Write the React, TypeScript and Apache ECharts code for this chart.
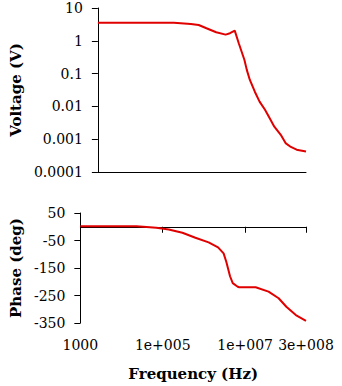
import React, { useEffect, useRef } from "react";
import * as echarts from "echarts";

// Voltage vs frequency (Hz, V)
const voltFreq = [1000, 1e5, 2.8e5, 4.5e5, 7.2e5, 1.3e6, 2.3e6, 3.0e6, 4.0e6, 5.1e6, 7.2e6, 8.3e6, 1.0e7, 1.35e7, 1.8e7, 2.5e7, 3.3e7, 4.4e7, 6.5e7, 8.7e7, 1.2e8, 1.7e8, 3e8];
const voltValues = [3.57, 3.57, 3.26, 3.04, 2.41, 1.82, 1.54, 1.7, 2.04, 0.84, 0.26, 0.13, 0.064, 0.028, 0.014, 0.0079, 0.0044, 0.0024, 0.00136, 0.00076, 0.00058, 0.00048, 0.00042];

// Phase vs frequency (Hz, deg)
const phaseFreq = [1000, 2.3e4, 7e4, 1.4e5, 3e5, 6.2e5, 1.3e6, 2.2e6, 3.0e6, 3.5e6, 4.3e6, 5.0e6, 6.6e6, 7.2e6, 1.8e7, 3.7e7, 6.5e7, 1e8, 1.7e8, 3e8];
const phaseValues = [2, 2, -4, -10, -22, -40, -57, -75, -97, -128, -180, -205, -218, -220, -220, -236, -260, -291, -321, -342];

// Tick labels
const freqTickValues = [1000, 1e5, 1e7, 3e8];
const freqTickLabels = ["1000", "1e+005", "1e+007", "3e+008"];
const phaseTicks = [-350, -250, -150, -50, 50];
const voltMin = 0.0001;
const voltMax = 10;
const freqMin = 1000;
const freqMax = 3e8;

const FONT = "DejaVu Serif";

export default function App() {
  const ref = useRef<HTMLDivElement>(null);
  useEffect(() => {
    if (!ref.current) return;
    const chart = echarts.init(ref.current, null, { renderer: "svg" });
    const lg = (v: number) => Math.log10(v);
    const freqTickLogs = freqTickValues.map(lg);
    const labelStyle = { color: "#000", fontFamily: FONT, fontSize: 14 };
    const nameStyle = { color: "#000", fontFamily: FONT, fontSize: 15, fontWeight: "bold" as const };
    const axisLine = { show: true, lineStyle: { color: "#000", width: 1 } };
    chart.setOption({
      animation: false,
      backgroundColor: "#fff",
      textStyle: { fontFamily: FONT },
      grid: [
        { left: 91, top: 8, right: 36, height: 164 },
        { left: 76, top: 213, right: 36, height: 110 },
      ],
      xAxis: [
        {
          gridIndex: 0,
          type: "value",
          min: lg(freqMin),
          max: lg(freqMax),
          axisLine,
          axisTick: { show: false },
          axisLabel: { show: false },
          splitLine: { show: false },
        },
        {
          gridIndex: 1,
          type: "value",
          min: lg(freqMin),
          max: lg(freqMax),
          axisLine,
          axisTick: { show: true, length: 6, lineStyle: { color: "#000" }, customValues: freqTickLogs },
          axisLabel: {
            ...labelStyle,
            margin: 15,
            customValues: freqTickLogs,
            formatter: (v: number) => {
              let best = 0;
              freqTickLogs.forEach((t, i) => {
                if (Math.abs(t - v) < Math.abs(freqTickLogs[best] - v)) best = i;
              });
              return freqTickLabels[best];
            },
          },
          splitLine: { show: false },
          name: "Frequency (Hz)",
          nameLocation: "middle",
          nameGap: 43,
          nameTextStyle: nameStyle,
        },
      ],
      yAxis: [
        {
          gridIndex: 0,
          type: "log",
          logBase: 10,
          min: voltMin,
          max: voltMax,
          splitNumber: 5,
          axisLine,
          axisTick: { show: true, length: 6, lineStyle: { color: "#000" } },
          axisLabel: {
            ...labelStyle,
            margin: 15,
            formatter: (v: number) => String(parseFloat(v.toPrecision(3))),
          },
          splitLine: { show: false },
          name: "Voltage (V)",
          nameLocation: "middle",
          nameRotate: 90,
          nameGap: 71,
          nameTextStyle: nameStyle,
        },
        {
          gridIndex: 1,
          type: "value",
          min: -350,
          max: 50,
          axisLine,
          axisTick: { show: true, length: 6, lineStyle: { color: "#000" }, customValues: phaseTicks },
          axisLabel: { ...labelStyle, margin: 15, customValues: phaseTicks },
          splitLine: { show: false },
          name: "Phase (deg)",
          nameLocation: "middle",
          nameRotate: 90,
          nameGap: 56,
          nameTextStyle: nameStyle,
        },
      ],
      series: [
        {
          type: "line",
          xAxisIndex: 0,
          yAxisIndex: 0,
          data: voltFreq.map((f, i) => [lg(f), voltValues[i]]),
          showSymbol: false,
          lineStyle: { color: "#e00000", width: 2 },
        },
        {
          type: "line",
          xAxisIndex: 1,
          yAxisIndex: 1,
          data: phaseFreq.map((f, i) => [lg(f), phaseValues[i]]),
          showSymbol: false,
          lineStyle: { color: "#e00000", width: 2 },
        },
      ],
    });
    return () => chart.dispose();
  }, []);
  return (
    <div
      ref={ref}
      style={{ position: "fixed", left: 0, top: 0, width: 342, height: 386 }}
    />
  );
}
